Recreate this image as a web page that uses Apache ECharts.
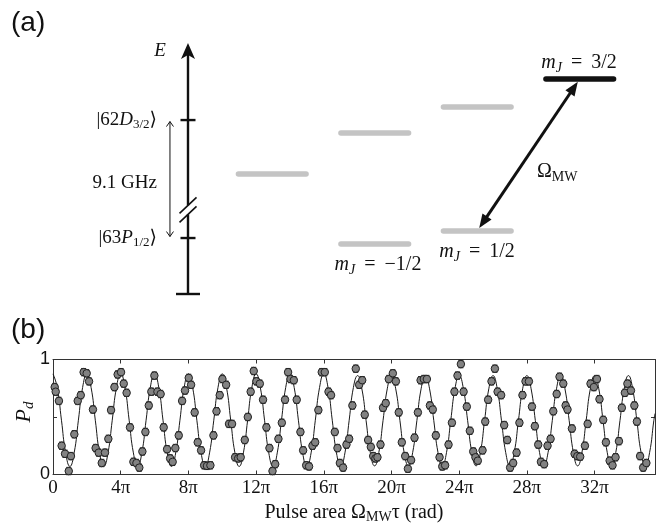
<!DOCTYPE html>
<html><head><meta charset="utf-8">
<script src="https://cdn.jsdelivr.net/npm/echarts@6/dist/echarts.min.js"></script>
<style>html,body{margin:0;padding:0;background:#fff}#c{width:665px;height:526px}</style>
</head><body><div id="c"></div>
<script>
// ---------- panel (b) data: x in units of pi ----------
const xTicksPi = [0, 4, 8, 12, 16, 20, 24, 28, 32];
const yTickValues = [0, 1];
const errHalf = 0.032;
const measured = [
[0.10,0.76],[0.16,0.72],[0.35,0.64],[0.51,0.25],[0.71,0.18],[0.93,0.03],[1.06,0.16],[1.26,0.35],[1.46,0.64],[1.64,0.69],
[1.81,0.89],[1.99,0.88],[2.13,0.81],[2.36,0.565],[2.52,0.23],[2.70,0.19],[2.88,0.10],[3.07,0.19],[3.27,0.31],[3.43,0.56],
[3.63,0.76],[3.82,0.87],[4.02,0.89],[4.18,0.79],[4.35,0.71],[4.55,0.41],[4.75,0.11],[4.93,0.10],[5.10,0.06],[5.28,0.20],
[5.46,0.37],[5.66,0.60],[5.81,0.72],[5.99,0.86],[6.17,0.72],[6.36,0.70],[6.54,0.41],[6.74,0.22],[6.92,0.14],[7.07,0.11],
[7.23,0.23],[7.43,0.34],[7.63,0.64],[7.80,0.73],[8.02,0.84],[8.16,0.78],[8.37,0.54],[8.55,0.28],[8.75,0.21],[8.93,0.08],
[9.10,0.075],[9.30,0.08],[9.48,0.34],[9.66,0.55],[9.85,0.69],[10.01,0.83],[10.23,0.78],[10.40,0.44],[10.58,0.44],[10.76,0.15],
[10.94,0.14],[11.09,0.15],[11.33,0.30],[11.51,0.50],[11.68,0.72],[11.86,0.90],[12.02,0.81],[12.22,0.79],[12.41,0.65],[12.61,0.41],
[12.79,0.23],[12.97,0.03],[13.13,0.09],[13.32,0.31],[13.52,0.45],[13.71,0.65],[13.89,0.89],[14.03,0.83],[14.23,0.82],[14.40,0.65],
[14.62,0.37],[14.78,0.21],[14.96,0.08],[15.13,0.07],[15.33,0.25],[15.49,0.28],[15.68,0.56],[15.88,0.89],[16.06,0.89],[16.28,0.72],
[16.43,0.69],[16.65,0.37],[16.81,0.23],[16.95,0.10],[17.14,0.06],[17.34,0.26],[17.50,0.31],[17.69,0.60],[17.89,0.92],[18.09,0.78],
[18.27,0.82],[18.42,0.52],[18.62,0.30],[18.78,0.24],[18.92,0.16],[19.05,0.14],[19.17,0.15],[19.35,0.26],[19.50,0.58],[19.66,0.62],
[19.84,0.83],[20.08,0.88],[20.26,0.81],[20.43,0.54],[20.61,0.28],[20.81,0.16],[20.97,0.05],[21.16,0.125],[21.36,0.32],[21.56,0.54],
[21.72,0.82],[21.91,0.83],[22.09,0.83],[22.27,0.60],[22.44,0.565],[22.62,0.34],[22.84,0.15],[23.00,0.07],[23.17,0.08],[23.37,0.26],
[23.57,0.45],[23.72,0.72],[23.90,0.86],[24.10,0.96],[24.26,0.72],[24.45,0.59],[24.63,0.38],[24.83,0.20],[24.96,0.15],[25.10,0.12],
[25.38,0.21],[25.54,0.46],[25.71,0.65],[25.91,0.81],[26.11,0.92],[26.27,0.72],[26.48,0.69],[26.66,0.43],[26.84,0.30],[27.01,0.06],
[27.19,0.10],[27.39,0.19],[27.56,0.45],[27.74,0.69],[27.92,0.81],[28.12,0.81],[28.30,0.59],[28.47,0.42],[28.67,0.26],[28.83,0.11],
[29.02,0.09],[29.22,0.25],[29.40,0.31],[29.56,0.55],[29.76,0.70],[29.93,0.85],[30.15,0.79],[30.29,0.60],[30.40,0.565],[30.66,0.40],
[30.82,0.18],[30.98,0.16],[31.15,0.155],[31.43,0.25],[31.59,0.44],[31.76,0.79],[31.96,0.76],[32.14,0.83],[32.29,0.655],[32.51,0.475],
[32.67,0.28],[32.89,0.12],[33.06,0.08],[33.24,0.15],[33.44,0.29],[33.61,0.58],[33.79,0.71],[33.94,0.79],[34.15,0.73],[34.35,0.60],
[34.50,0.46],[34.69,0.16],[34.87,0.06],[35.06,0.10]
];
const fitCurve = [
[0,0.875],[0.25,0.757],[0.5,0.472],[0.75,0.188],[1,0.07],[1.25,0.188],[1.5,0.472],[1.75,0.757],
[2,0.875],[2.25,0.757],[2.5,0.472],[2.75,0.188],[3,0.07],[3.25,0.188],[3.5,0.472],[3.75,0.757],
[4,0.875],[4.25,0.757],[4.5,0.472],[4.75,0.188],[5,0.07],[5.25,0.188],[5.5,0.472],[5.75,0.757],
[6,0.875],[6.25,0.757],[6.5,0.472],[6.75,0.188],[7,0.07],[7.25,0.188],[7.5,0.472],[7.75,0.757],
[8,0.875],[8.25,0.757],[8.5,0.472],[8.75,0.188],[9,0.07],[9.25,0.188],[9.5,0.472],[9.75,0.757],
[10,0.875],[10.25,0.757],[10.5,0.472],[10.75,0.188],[11,0.07],[11.25,0.188],[11.5,0.472],[11.75,0.757],
[12,0.875],[12.25,0.757],[12.5,0.472],[12.75,0.188],[13,0.07],[13.25,0.188],[13.5,0.472],[13.75,0.757],
[14,0.875],[14.25,0.757],[14.5,0.472],[14.75,0.188],[15,0.07],[15.25,0.188],[15.5,0.472],[15.75,0.757],
[16,0.875],[16.25,0.757],[16.5,0.472],[16.75,0.188],[17,0.07],[17.25,0.188],[17.5,0.472],[17.75,0.757],
[18,0.86],[18.25,0.745],[18.5,0.468],[18.75,0.19],[19,0.075],[19.25,0.19],[19.5,0.468],[19.75,0.745],
[20,0.86],[20.25,0.745],[20.5,0.468],[20.75,0.19],[21,0.075],[21.25,0.19],[21.5,0.468],[21.75,0.745],
[22,0.86],[22.25,0.745],[22.5,0.468],[22.75,0.19],[23,0.075],[23.25,0.19],[23.5,0.468],[23.75,0.745],
[24,0.86],[24.25,0.745],[24.5,0.468],[24.75,0.19],[25,0.075],[25.25,0.19],[25.5,0.468],[25.75,0.745],
[26,0.86],[26.25,0.745],[26.5,0.468],[26.75,0.19],[27,0.075],[27.25,0.19],[27.5,0.468],[27.75,0.745],
[28,0.86],[28.25,0.745],[28.5,0.468],[28.75,0.19],[29,0.075],[29.25,0.19],[29.5,0.468],[29.75,0.745],
[30,0.86],[30.25,0.745],[30.5,0.468],[30.75,0.19],[31,0.075],[31.25,0.19],[31.5,0.468],[31.75,0.745],
[32,0.86],[32.25,0.745],[32.5,0.468],[32.75,0.19],[33,0.075],[33.25,0.19],[33.5,0.468],[33.75,0.745],
[34,0.86],[34.25,0.745],[34.5,0.468],[34.75,0.19],[35,0.075],[35.25,0.19],[35.5,0.468],[35.57,0.53]
];
const xMaxPi = 35.57;

// ---------- panel (a) data: energy diagram (arbitrary energy units 0..100) ----------
const levelColumn = [0, 1, 1, 2, 2, 3];
const levelEnergy = [47.8, 64.1, 19.9, 74.5, 25.1, 85.7];
const levelIsTarget = [0, 0, 0, 0, 0, 1];
const stateEnergy = [69.3, 22.3];          // |62D3/2>, |63P1/2>
const axisBreakEnergy = [31.7, 35.3];
const energyAxisColumn = -0.822;
const gapArrowColumn = -0.998;
const mwTransition = [2, 25.1, 3, 85.7];   // from (col, E) to (col, E)

const SERIF = "'Liberation Serif','DejaVu Serif',serif";
const SANS = "'Liberation Sans',Arial,sans-serif";
const INK = '#111';

function richSet(size) {
  const s = Math.round(size * 0.68);
  return {
    it: {fontFamily: SERIF, fontStyle: 'italic', fontSize: size, fill: INK, color: INK},
    sub: {fontFamily: SERIF, fontSize: s, padding: [Math.round(size*0.5), 0, 0, 0], fill: INK, color: INK},
    subit: {fontFamily: SERIF, fontStyle: 'italic', fontSize: s, padding: [Math.round(size*0.5), 0, 0, 0], fill: INK, color: INK}
  };
}
function txt(x, y, text, size, align, opts) {
  opts = opts || {};
  return {type: 'text', x: x, y: y, silent: true,
    style: {text: text, fontFamily: opts.family || SERIF, fontSize: size, fontStyle: opts.italic ? 'italic' : 'normal',
      fill: INK, align: align, textAlign: align, verticalAlign: 'middle', textVerticalAlign: 'middle', rich: richSet(size)}};
}
function seg(x1, y1, x2, y2, w, c) {
  return {type: 'line', shape: {x1: x1, y1: y1, x2: x2, y2: y2}, style: {stroke: c || INK, lineWidth: w, lineCap: 'butt'}};
}

const chart = echarts.init(document.getElementById('c'), null, {renderer: 'canvas'});
const axCommon = {type: 'value', gridIndex: 0, splitLine: {show: false},
  axisLine: {show: true, onZero: false, lineStyle: {color: '#333', width: 1}},
  axisTick: {show: true, inside: true, length: 4, lineStyle: {color: '#333', width: 1}}};

chart.setOption({
  animation: false,
  backgroundColor: '#fff',
  grid: [
    {left: 53, right: 10, top: 359.5, height: 115},
    {left: 149.25, width: 481.75, top: 43, height: 251}
  ],
  xAxis: [
    Object.assign({}, axCommon, {min: 0, max: xMaxPi, interval: 4, position: 'bottom',
      axisLabel: {margin: 4, color: INK, fontFamily: SERIF, fontSize: 19,
        formatter: v => xTicksPi.indexOf(v) >= 0 ? (v === 0 ? '0' : v + 'π') : ''},
      name: 'Pulse area Ω{sub|MW}τ (rad)', nameLocation: 'middle', nameGap: 26,
      nameTextStyle: {fontFamily: SERIF, fontSize: 20, color: INK, rich: richSet(20)}}),
    Object.assign({}, axCommon, {min: 0, max: xMaxPi, interval: 4, position: 'top', axisLabel: {show: false}}),
    {type: 'value', gridIndex: 1, min: -1.2, max: 3.5, show: false}
  ],
  yAxis: [
    Object.assign({}, axCommon, {min: 0, max: 1, interval: 0.5, position: 'left',
      axisLabel: {margin: 3, color: INK, fontFamily: SANS, fontSize: 18,
        formatter: v => yTickValues.indexOf(v) >= 0 ? String(v) : ''}}),
    Object.assign({}, axCommon, {min: 0, max: 1, interval: 0.5, position: 'right', axisLabel: {show: false}}),
    {type: 'value', gridIndex: 1, min: 0, max: 100, show: false}
  ],
  series: [
    {type: 'line', xAxisIndex: 0, yAxisIndex: 0, data: fitCurve, smooth: 0.5, symbol: 'none', silent: true,
      lineStyle: {color: '#1a1a1a', width: 1}, z: 2},
    {type: 'custom', xAxisIndex: 0, yAxisIndex: 0, data: measured, clip: false, silent: true, z: 3,
      renderItem: (p, api) => {
        const x = api.value(0), y = api.value(1);
        const t = api.coord([x, y + errHalf]), b = api.coord([x, y - errHalf]);
        const w = 2.5;
        return {type: 'group', children: [
          seg(t[0], t[1], b[0], b[1], 1, '#1a1a1a'),
          seg(t[0]-w, t[1], t[0]+w, t[1], 1, '#1a1a1a'),
          seg(b[0]-w, b[1], b[0]+w, b[1], 1, '#1a1a1a')]};
      }},
    {type: 'scatter', xAxisIndex: 0, yAxisIndex: 0, data: measured, symbol: 'circle', symbolSize: 7.5, silent: true, z: 4,
      itemStyle: {color: '#828282', borderColor: '#222', borderWidth: 1, opacity: 1}},

    // panel (a): sub-levels
    {type: 'custom', xAxisIndex: 2, yAxisIndex: 2, clip: false, silent: true,
      data: levelColumn.map((c, i) => [c, levelEnergy[i], levelIsTarget[i]]),
      renderItem: (p, api) => {
        const c = api.value(0), e = api.value(1), t = api.value(2);
        const a = api.coord([c - 0.33, e]), b = api.coord([c + 0.33, e]);
        return {type: 'line', shape: {x1: a[0], y1: a[1], x2: b[0], y2: b[1]},
          style: {stroke: t ? '#111' : '#c4c4c4', lineWidth: 5.5, lineCap: 'round'}};
      }},
    // panel (a): energy axis with states and 9.1 GHz gap
    {type: 'custom', xAxisIndex: 2, yAxisIndex: 2, clip: false, silent: true,
      data: [[energyAxisColumn, 0]],
      renderItem: (p, api) => {
        const ax = api.value(0);
        const base = api.coord([ax, 0]), tip = api.coord([ax, 100]);
        const lo = api.coord([ax, axisBreakEnergy[0]]), hi = api.coord([ax, axisBreakEnergy[1]]);
        const X = base[0];
        const ch = [];
        ch.push(seg(X, base[1], X, lo[1], 2.4));
        ch.push(seg(X, hi[1], X, tip[1] + 12, 2.4));
        ch.push({type: 'polygon', shape: {points: [[X, tip[1]], [X - 7, tip[1] + 16], [X, tip[1] + 12], [X + 7, tip[1] + 16]]},
          style: {fill: INK}});
        ch.push(seg(X - 12, base[1], X + 12, base[1], 2.4));
        stateEnergy.forEach(e => { const q = api.coord([ax, e]); ch.push(seg(X - 7.5, q[1], X + 7.5, q[1], 2.4)); });
        [lo, hi].forEach(q => ch.push(seg(X - 8.5, q[1] + 8, X + 8.5, q[1] - 8, 1.6)));
        const ga = api.coord([gapArrowColumn, stateEnergy[0]]), gb = api.coord([gapArrowColumn, stateEnergy[1]]);
        const gx = ga[0], y1 = ga[1] + 1.5, y2 = gb[1] - 1.5;
        ch.push(seg(gx, y1, gx, y2, 1));
        ch.push(seg(gx - 3.5, y1 + 5, gx, y1, 1)); ch.push(seg(gx + 3.5, y1 + 5, gx, y1, 1));
        ch.push(seg(gx - 3.5, y2 - 5, gx, y2, 1)); ch.push(seg(gx + 3.5, y2 - 5, gx, y2, 1));
        return {type: 'group', children: ch};
      }},
    // panel (a): microwave transition arrow
    {type: 'custom', xAxisIndex: 2, yAxisIndex: 2, clip: false, silent: true,
      data: [mwTransition], encode: {x: [0, 2], y: [1, 3]},
      renderItem: (p, api) => {
        const p1 = api.coord([api.value(0), api.value(1)]), p2 = api.coord([api.value(2), api.value(3)]);
        const dx = p2[0] - p1[0], dy = p2[1] - p1[1], L = Math.hypot(dx, dy), ux = dx / L, uy = dy / L;
        const gap = 3.5, head = 14, hw = 5.5, nx = -uy, ny = ux;
        const t1 = [p1[0] + ux * gap, p1[1] + uy * gap], t2 = [p2[0] - ux * gap, p2[1] - uy * gap];
        const b1 = [t1[0] + ux * head, t1[1] + uy * head], b2 = [t2[0] - ux * head, t2[1] - uy * head];
        return {type: 'group', children: [
          seg(b1[0] - ux * 2, b1[1] - uy * 2, b2[0] + ux * 2, b2[1] + uy * 2, 3),
          {type: 'polygon', shape: {points: [t1, [b1[0] + nx * hw, b1[1] + ny * hw], [b1[0] - nx * hw, b1[1] - ny * hw]]}, style: {fill: INK}},
          {type: 'polygon', shape: {points: [t2, [b2[0] + nx * hw, b2[1] + ny * hw], [b2[0] - nx * hw, b2[1] - ny * hw]]}, style: {fill: INK}}
        ]};
      }}
  ],
  graphic: [
    txt(11, 23, '(a)', 28, 'left', {family: SANS}),
    txt(11, 330, '(b)', 28, 'left', {family: SANS}),
    txt(160, 51, 'E', 19, 'center', {italic: true}),
    txt(157, 120, '|62{it|D}{sub|3/2}⟩', 19, 'right'),
    txt(157, 183, '9.1 GHz', 19, 'right'),
    txt(157, 238, '|63{it|P}{sub|1/2}⟩', 19, 'right'),
    txt(579, 63, '{it|m}{subit|J}\u2009 = \u20093/2', 20, 'center'),
    txt(477, 252, '{it|m}{subit|J}\u2009 = \u20091/2', 20, 'center'),
    txt(378, 265, '{it|m}{subit|J}\u2009 = \u2009−1/2', 20, 'center'),
    txt(537, 172, 'Ω{sub|MW}', 20, 'left'),
    Object.assign(txt(24, 412, '{it|P}{subit|d}', 22, 'center', {italic: true}), {rotation: Math.PI / 2})
  ]
});
</script>
</body></html>
